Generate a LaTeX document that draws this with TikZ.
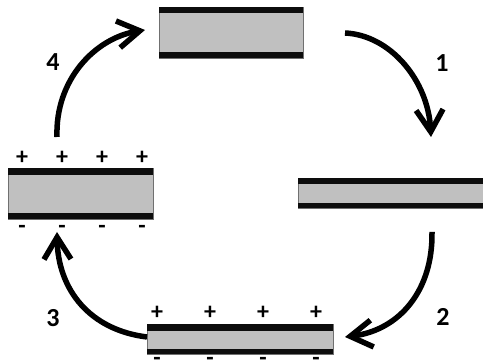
\documentclass[tikz,border=0pt]{standalone}
\usepackage{fontspec}
\setmainfont{Carlito}
\newfontfamily\labelfont{Carlito}[UprightFont=* Bold]
\usetikzlibrary{arrows.meta}
\definecolor{plategray}{HTML}{C0C0C0}
\definecolor{plateedge}{HTML}{707070}
\begin{document}
\begin{tikzpicture}[x=1pt,y=-1pt,
  plate/.style={draw=plateedge, line width=0.8pt, fill=plategray, inner sep=0pt, outer sep=0pt, anchor=north west},
  band/.style={fill=black!95},
  cycarrow/.style={line width=5.5pt, -{Straight Barb[length=22pt,width=27pt]}},
  steplabel/.style={font=\labelfont\fontsize{26}{26}\selectfont, inner sep=0pt},
  charge/.style={font=\labelfont\fontsize{24}{24}\selectfont, inner sep=0pt}]
\useasboundingbox (0,0) rectangle (483,363);
% plates
\node[plate, minimum width=144pt, minimum height=51pt] (top) at (159,7) {};
\fill[band] (top.north west) rectangle ([yshift=-6pt]top.north east);
\fill[band] ([yshift=6pt]top.south west) rectangle (top.south east);
\node[plate, minimum width=200pt, minimum height=30pt] (right) at (298,178) {};
\fill[band] (right.north west) rectangle ([yshift=-6pt]right.north east);
\fill[band] ([yshift=5pt]right.south west) rectangle (right.south east);
\node[plate, minimum width=145pt, minimum height=51pt] (left) at (8,168) {};
\fill[band] (left.north west) rectangle ([yshift=-7pt]left.north east);
\fill[band] ([yshift=6pt]left.south west) rectangle (left.south east);
\node[plate, minimum width=186pt, minimum height=30pt] (bottom) at (147,324) {};
\fill[band] (bottom.north west) rectangle ([yshift=-7pt]bottom.north east);
\fill[band] ([yshift=5pt]bottom.south west) rectangle (bottom.south east);
% charges
\foreach \x [count=\i] in {22,62,102,142} {
  \node[charge] (lp\i) at (\x,158) {+};
  \node[charge] (lm\i) at (\x,229) {-};
}
\foreach \x [count=\i] in {157,210,263,316} {
  \node[charge] (bp\i) at (\x,313) {+};
  \node[charge] (bm\i) at (\x,361) {-};
}
% arrows
\coordinate (a1s) at (345,33);  \coordinate (a1e) at (431,137);
\coordinate (a2s) at (432,232); \coordinate (a2e) at (345,337);
\coordinate (a3s) at (147,337); \coordinate (a3e) at (57,232);
\coordinate (a4s) at (57,137);  \coordinate (a4e) at (145,30);
\draw[cycarrow] (a1s) .. controls (390,35) and (428,80) .. (a1e);
\draw[cycarrow] (a2s) .. controls (433,290) and (400,330) .. (a2e);
\draw[cycarrow] (a3s) .. controls (90,330) and (58,290) .. (a3e);
\draw[cycarrow] (a4s) .. controls (55,80) and (95,38) .. (a4e);
% labels
\node[steplabel] (l1) at (442,63) {1};
\node[steplabel] (l2) at (443,317) {2};
\node[steplabel] (l3) at (53,318) {3};
\node[steplabel] (l4) at (53,62) {4};
\end{tikzpicture}
\end{document}
